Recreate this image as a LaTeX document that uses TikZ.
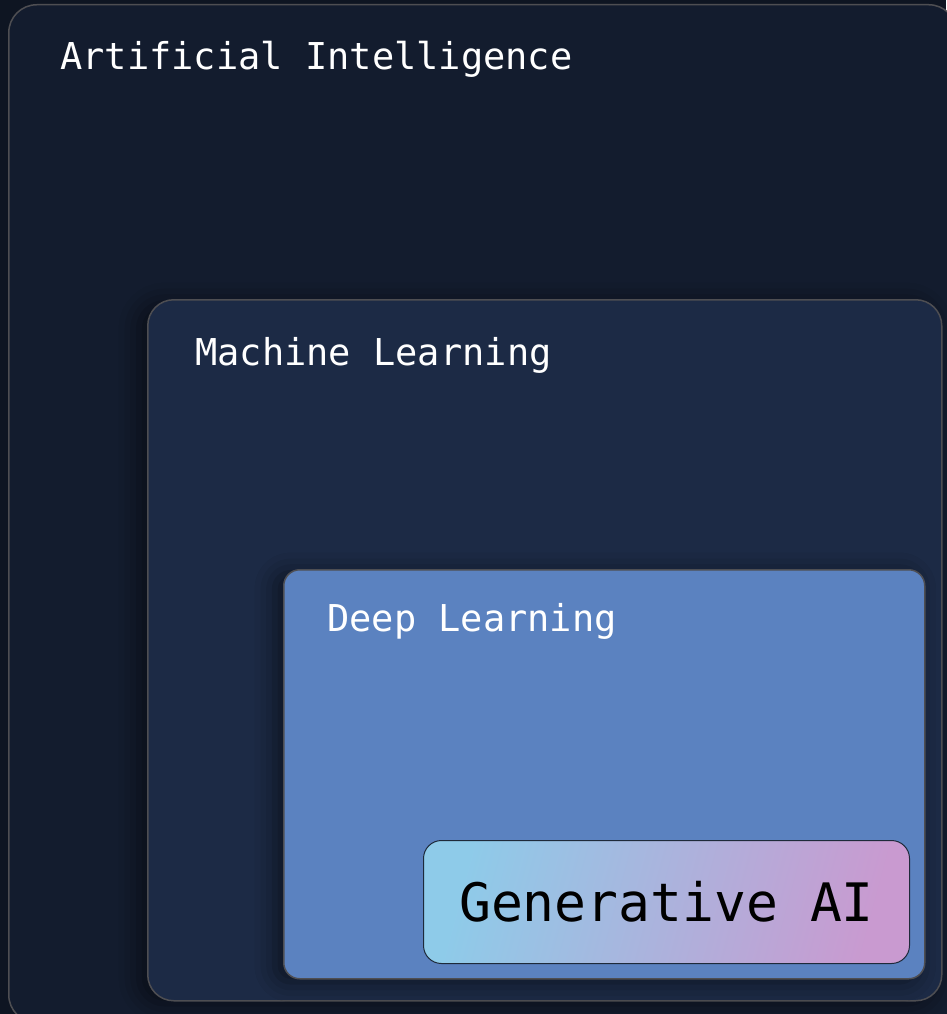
\documentclass[tikz,border=0pt]{standalone}
\usepackage{fontspec}
\setmonofont{DejaVu Sans Mono}
\usetikzlibrary{shadows.blur}

\definecolor{pagebg}{HTML}{0E1522}
\definecolor{aifill}{HTML}{131C2E}
\definecolor{mlfill}{HTML}{1C2A45}
\definecolor{dlfill}{HTML}{5B82C0}
\definecolor{edgegray}{HTML}{4E4E52}
\definecolor{galeft}{HTML}{8ECBE9}
\definecolor{garight}{HTML}{C99AD0}
\definecolor{gaedge}{HTML}{1E2A3A}

\begin{document}
\begin{tikzpicture}[x=1pt,y=-1pt,
  box/.style={draw=edgegray,line width=1.5pt,inner sep=0pt,anchor=north west},
  softshadow/.style={blur shadow={shadow xshift=-9pt,shadow yshift=-3pt,
      shadow blur radius=20pt,shadow opacity=50}},
  title/.style={anchor=base west,text=white,inner sep=0pt,
      font=\ttfamily\fontsize{37}{44}\selectfont}]
  \fill[pagebg] (0,0) rectangle (946,1014);
  \useasboundingbox (0,0) rectangle (946,1014);

  \node[box,fill=aifill,rounded corners=28pt,minimum width=948pt,minimum height=1018pt]
    (ai) at (8,4) {};
  \node[box,fill=mlfill,rounded corners=26pt,minimum width=794pt,minimum height=701pt,
    softshadow] (ml) at (147,299) {};
  \node[box,fill=dlfill,rounded corners=16pt,minimum width=641pt,minimum height=409pt,
    softshadow] (dl) at (283,569) {};
  \node[box,draw=gaedge,line width=1pt,rounded corners=18pt,left color=galeft,
    right color=garight,shading angle=75,minimum width=486pt,minimum height=123pt]
    (ga) at (423,840) {};

  \node[title] (ailabel) at (60,70) {Artificial Intelligence};
  \node[title] (mllabel) at (195,365) {Machine Learning};
  \node[title] (dllabel) at (327,631) {Deep Learning};
  \node[text=black,font=\ttfamily\fontsize{53}{60}\selectfont] (galabel) at (ga.center)
    {Generative AI};
\end{tikzpicture}
\end{document}
